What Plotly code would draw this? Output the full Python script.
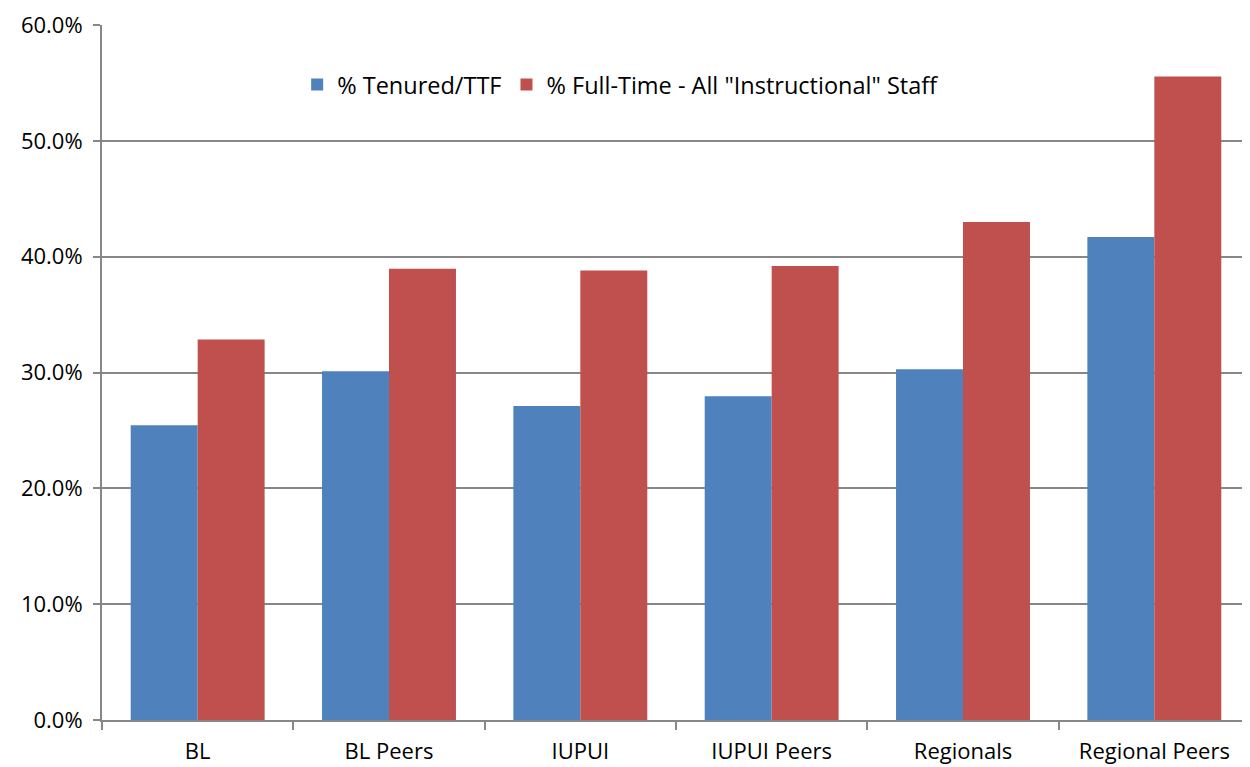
import plotly.graph_objects as go

categories = ["BL", "BL Peers", "IUPUI", "IUPUI Peers", "Regionals", "Regional Peers"]
tenured = [0.2545, 0.301, 0.271, 0.2795, 0.3027, 0.417]
fulltime = [0.3285, 0.3895, 0.388, 0.392, 0.430, 0.5555]
series_names = ["% Tenured/TTF", "% Full-Time - All \"Instructional\" Staff"]
colors = ["#4F81BD", "#C0504D"]
y_ticks = [0.0, 0.1, 0.2, 0.3, 0.4, 0.5, 0.6]

font_family = "'Open Sans', Lato, sans-serif"

fig = go.Figure()
fig.add_trace(go.Bar(x=categories, y=tenured, name=series_names[0], marker=dict(color=colors[0], line=dict(width=0))))
fig.add_trace(go.Bar(x=categories, y=fulltime, name=series_names[1], marker=dict(color=colors[1], line=dict(width=0))))

fig.update_layout(
    width=1250, height=767,
    margin=dict(l=94, r=8, t=17, b=55),
    paper_bgcolor="white", plot_bgcolor="white",
    barmode="group", bargap=0.3, bargroupgap=0,
    font=dict(family=font_family, size=22, color="black"),
    legend=dict(orientation="h", x=0.17, y=0.914, xanchor="left", yanchor="middle",
                font=dict(size=23.5), bgcolor="rgba(0,0,0,0)", traceorder="normal"),
    xaxis=dict(showline=True, linecolor="#878787", linewidth=2, ticks="outside", tickson="boundaries",
               ticklen=8, tickcolor="#878787", tickwidth=2, showgrid=False, ticklabelstandoff=11,
               automargin=False),
    yaxis=dict(range=[0, 0.6], tickmode="array", tickvals=y_ticks, tickformat=".1%",
               showline=True, linecolor="#878787", linewidth=2, ticklabeloverflow="allow",
               ticks="outside", ticklen=7, tickcolor="#878787", tickwidth=2,
               showgrid=True, gridcolor="#878787", gridwidth=2, zeroline=False, ticklabelstandoff=6,
               automargin=False),
)

fig.write_html("out.html")
